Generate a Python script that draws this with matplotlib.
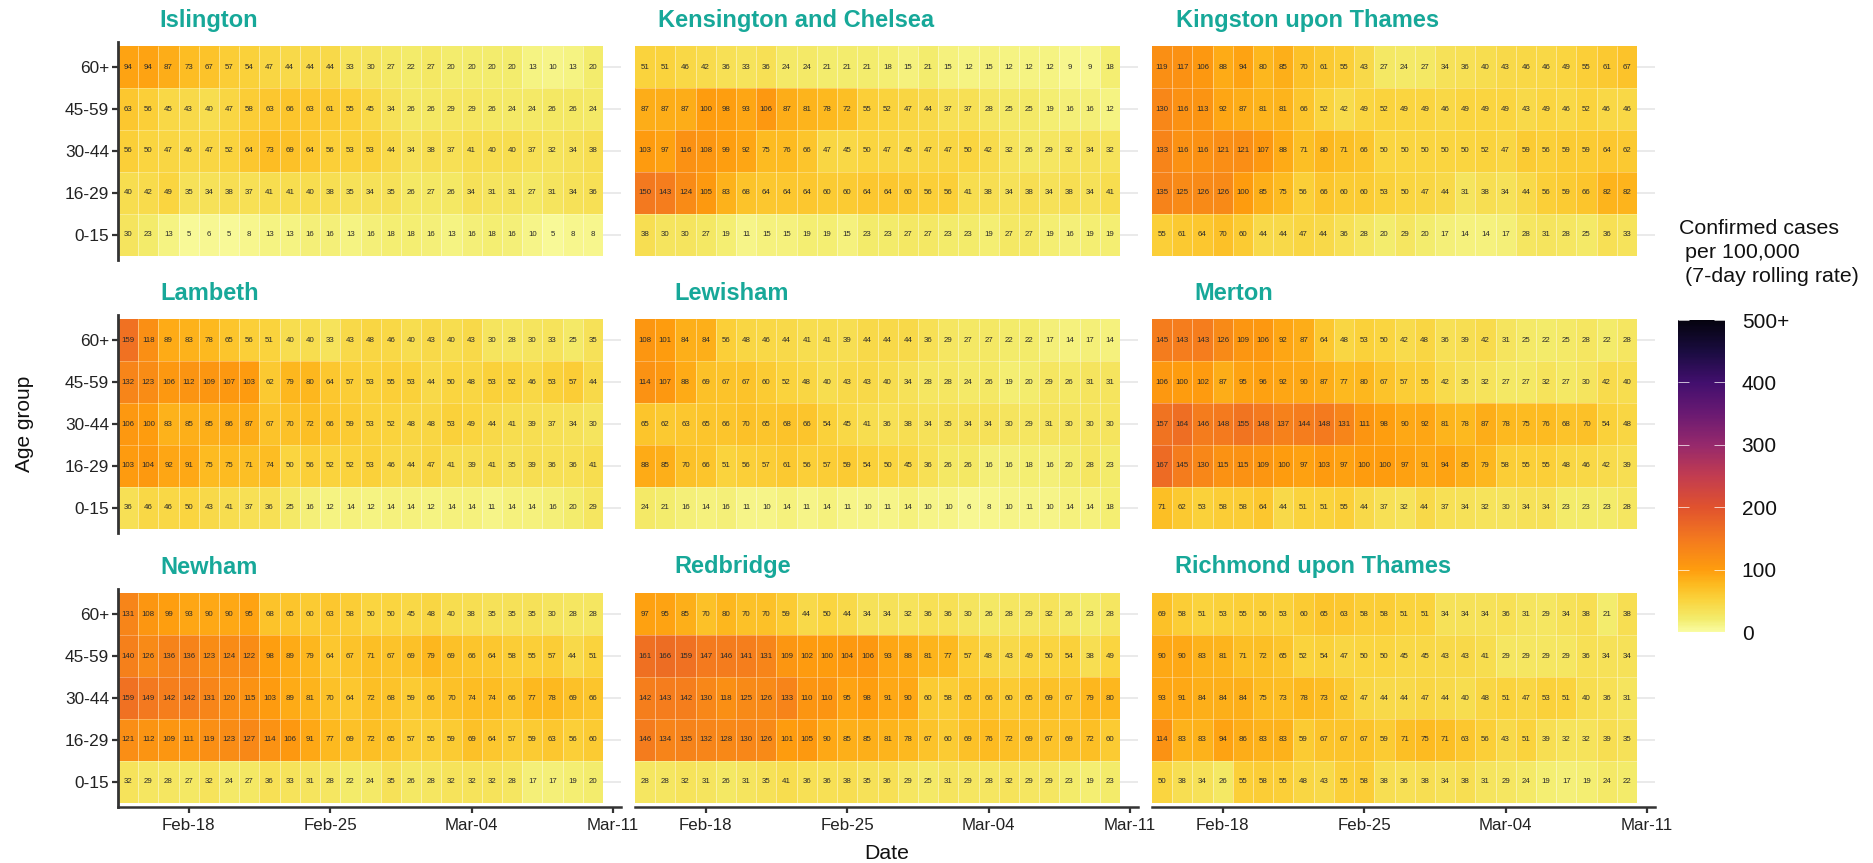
import numpy as np
import matplotlib
matplotlib.use('Agg')
import matplotlib.pyplot as plt
import matplotlib.dates as mdates
from matplotlib.colors import LinearSegmentedColormap, Normalize
from matplotlib.cm import ScalarMappable

plt.rcParams['font.family'] = ['Liberation Sans', 'DejaVu Sans']

# Age groups, bottom row first
age_groups = ['0-15', '16-29', '30-44', '45-59', '60+']
boroughs = ['Islington', 'Kensington and Chelsea', 'Kingston upon Thames',
            'Lambeth', 'Lewisham', 'Merton',
            'Newham', 'Redbridge', 'Richmond upon Thames']
dates = mdates.date2num(np.arange('2021-02-15', '2021-03-11', dtype='datetime64[D]'))
tick_dates = ['2021-02-18', '2021-02-25', '2021-03-04', '2021-03-11']
cbar_ticks = [0, 100, 200, 300, 400, 500]
cbar_labels = ['0', '100', '200', '300', '400', '500+']

# Case rates, each row listed from 60+ down to 0-15
islington = [
    [94, 94, 87, 73, 67, 57, 54, 47, 44, 44, 44, 33, 30, 27, 22, 27, 20, 20, 20, 20, 13, 10, 13, 20],
    [63, 56, 45, 43, 40, 47, 58, 63, 66, 63, 61, 55, 45, 34, 26, 26, 29, 29, 26, 24, 24, 26, 26, 24],
    [56, 50, 47, 46, 47, 52, 64, 73, 69, 64, 56, 53, 53, 44, 34, 38, 37, 41, 40, 40, 37, 32, 34, 38],
    [40, 42, 49, 35, 34, 38, 37, 41, 41, 40, 38, 35, 34, 35, 26, 27, 26, 34, 31, 31, 27, 31, 34, 36],
    [30, 23, 13, 5, 6, 5, 8, 13, 13, 16, 16, 13, 16, 18, 18, 16, 13, 16, 18, 16, 10, 5, 8, 8],
]
kensington = [
    [51, 51, 46, 42, 36, 33, 36, 24, 24, 21, 21, 21, 18, 15, 21, 15, 12, 15, 12, 12, 12, 9, 9, 18],
    [87, 87, 87, 100, 98, 93, 106, 87, 81, 78, 72, 55, 52, 47, 44, 37, 37, 28, 25, 25, 19, 16, 16, 12],
    [103, 97, 116, 108, 99, 92, 75, 76, 66, 47, 45, 50, 47, 45, 47, 47, 50, 42, 32, 26, 29, 32, 34, 32],
    [150, 143, 124, 105, 83, 68, 64, 64, 64, 60, 60, 64, 64, 60, 56, 56, 41, 38, 34, 38, 34, 38, 34, 41],
    [38, 30, 30, 27, 19, 11, 15, 15, 19, 19, 15, 23, 23, 27, 27, 23, 23, 19, 27, 27, 19, 16, 19, 19],
]
kingston = [
    [119, 117, 106, 88, 94, 80, 85, 70, 61, 55, 43, 27, 24, 27, 34, 36, 40, 43, 46, 46, 49, 55, 61, 67],
    [130, 116, 113, 92, 87, 81, 81, 66, 52, 42, 49, 52, 49, 49, 46, 49, 49, 49, 43, 49, 46, 52, 46, 46],
    [133, 116, 116, 121, 121, 107, 88, 71, 80, 71, 66, 50, 50, 50, 50, 50, 52, 47, 59, 56, 59, 59, 64, 62],
    [135, 125, 126, 126, 100, 85, 75, 56, 66, 60, 60, 53, 50, 47, 44, 31, 38, 34, 44, 56, 59, 66, 82, 82],
    [55, 61, 64, 70, 60, 44, 44, 47, 44, 36, 28, 20, 29, 20, 17, 14, 14, 17, 28, 31, 28, 25, 36, 33],
]
lambeth = [
    [159, 118, 89, 83, 78, 65, 56, 51, 40, 40, 33, 43, 48, 46, 40, 43, 40, 43, 30, 28, 30, 33, 25, 35],
    [132, 123, 106, 112, 109, 107, 103, 62, 79, 80, 64, 57, 53, 55, 53, 44, 50, 48, 53, 52, 46, 53, 57, 44],
    [106, 100, 83, 85, 85, 86, 87, 67, 70, 72, 66, 59, 53, 52, 48, 48, 53, 49, 44, 41, 39, 37, 34, 30],
    [103, 104, 92, 91, 75, 75, 71, 74, 50, 56, 52, 52, 53, 46, 44, 47, 41, 39, 41, 35, 39, 36, 36, 41],
    [36, 46, 46, 50, 43, 41, 37, 36, 25, 16, 12, 14, 12, 14, 14, 12, 14, 14, 11, 14, 14, 16, 20, 29],
]
lewisham = [
    [108, 101, 84, 84, 56, 48, 46, 44, 41, 41, 39, 44, 44, 44, 36, 29, 27, 27, 22, 22, 17, 14, 17, 14],
    [114, 107, 88, 69, 67, 67, 60, 52, 48, 40, 43, 43, 40, 34, 28, 28, 24, 26, 19, 20, 29, 26, 31, 31],
    [65, 62, 63, 65, 66, 70, 65, 68, 66, 54, 45, 41, 36, 38, 34, 35, 34, 34, 30, 29, 31, 30, 30, 30],
    [88, 85, 70, 66, 51, 56, 57, 61, 56, 57, 59, 54, 50, 45, 36, 26, 26, 16, 16, 18, 16, 20, 28, 23],
    [24, 21, 16, 14, 16, 11, 10, 14, 11, 14, 11, 10, 11, 14, 10, 10, 6, 8, 10, 11, 10, 14, 14, 18],
]
merton = [
    [145, 143, 143, 126, 109, 106, 92, 87, 64, 48, 53, 50, 42, 48, 36, 39, 42, 31, 25, 22, 25, 28, 22, 28],
    [106, 100, 102, 87, 95, 96, 92, 90, 87, 77, 80, 67, 57, 55, 42, 35, 32, 27, 27, 32, 27, 30, 42, 40],
    [157, 164, 146, 148, 155, 148, 137, 144, 148, 131, 111, 98, 90, 92, 81, 78, 87, 78, 75, 76, 68, 70, 54, 48],
    [167, 145, 130, 115, 115, 109, 100, 97, 103, 97, 100, 100, 97, 91, 94, 85, 79, 58, 55, 55, 48, 46, 42, 39],
    [71, 62, 53, 58, 58, 64, 44, 51, 51, 55, 44, 37, 32, 44, 37, 34, 32, 30, 34, 34, 23, 23, 23, 28],
]
newham = [
    [131, 108, 99, 93, 90, 90, 95, 68, 65, 60, 63, 58, 50, 50, 45, 48, 40, 38, 35, 35, 35, 30, 28, 28],
    [140, 126, 136, 136, 123, 124, 122, 98, 89, 79, 64, 67, 71, 67, 69, 79, 69, 66, 64, 58, 55, 57, 44, 51],
    [159, 149, 142, 142, 131, 120, 115, 103, 89, 81, 70, 64, 72, 68, 59, 66, 70, 74, 74, 66, 77, 78, 69, 66],
    [121, 112, 109, 111, 119, 123, 127, 114, 106, 91, 77, 69, 72, 65, 57, 55, 59, 69, 64, 57, 59, 63, 56, 60],
    [32, 29, 28, 27, 32, 24, 27, 36, 33, 31, 28, 22, 24, 35, 26, 28, 32, 32, 32, 28, 17, 17, 19, 20],
]
redbridge = [
    [97, 95, 85, 70, 80, 70, 70, 59, 44, 50, 44, 34, 34, 32, 36, 36, 30, 26, 28, 29, 32, 26, 23, 28],
    [161, 166, 159, 147, 146, 141, 131, 109, 102, 100, 104, 106, 93, 88, 81, 77, 57, 48, 43, 49, 50, 54, 38, 49],
    [142, 143, 142, 130, 118, 125, 126, 133, 110, 110, 95, 98, 91, 90, 60, 58, 65, 66, 60, 65, 69, 67, 79, 80],
    [146, 134, 135, 132, 128, 130, 126, 101, 105, 90, 85, 85, 81, 78, 67, 60, 69, 76, 72, 69, 67, 69, 72, 60],
    [28, 28, 32, 31, 26, 31, 35, 41, 36, 36, 38, 35, 36, 29, 25, 31, 29, 28, 32, 29, 29, 23, 19, 23],
]
richmond = [
    [69, 58, 51, 53, 55, 56, 53, 60, 65, 63, 58, 58, 51, 51, 34, 34, 34, 36, 31, 29, 34, 38, 21, 38],
    [90, 90, 83, 81, 71, 72, 65, 52, 54, 47, 50, 50, 45, 45, 43, 43, 41, 29, 29, 29, 29, 36, 34, 34],
    [93, 91, 84, 84, 84, 75, 73, 78, 73, 62, 47, 44, 44, 47, 44, 40, 48, 51, 47, 53, 51, 40, 36, 31],
    [114, 83, 83, 94, 86, 83, 83, 59, 67, 67, 67, 59, 71, 75, 71, 63, 56, 43, 51, 39, 32, 32, 39, 35],
    [50, 38, 34, 26, 55, 58, 55, 48, 43, 55, 58, 38, 36, 38, 34, 38, 31, 29, 24, 19, 17, 19, 24, 22],
]
panels = [islington, kensington, kingston, lambeth, lewisham, merton, newham, redbridge, richmond]

W, H = 1874, 863
fig = plt.figure(figsize=(W / 100, H / 100), dpi=100)

# Looks like reversed inferno, but washed out a little, so anchor it by hand
cmap = LinearSegmentedColormap.from_list('cases', [
    (0.00, '#f9fca2'), (0.04, '#f3ec6c'), (0.10, '#fad43e'), (0.15, '#fdbb20'),
    (0.20, '#fe9c0e'), (0.30, '#f3781f'), (0.40, '#e0522e'), (0.50, '#c23c50'),
    (0.60, '#96296c'), (0.70, '#6a1a72'), (0.80, '#420f6e'), (0.90, '#1a0c40'),
    (1.00, '#05030f')])
norm = Normalize(0, 500)

# Panel boxes in pixels
lefts = [118, 635, 1152]
tops = [42, 315, 589]
panel_w, panel_h = 503, 218
title_x = [159, 658, 1176, 160, 674, 1194, 160, 674, 1175]
title_y = [21, 294, 567]
teal = '#17a899'
dark = '#333333'

x_edges = np.append(dates - 0.5, dates[-1] + 0.5)
y_edges = np.arange(6) - 0.5
cell_w = 485 / 24

for i, values in enumerate(panels):
    row, col = i // 3, i % 3
    ax = fig.add_axes([lefts[col] / W, 1 - (tops[row] + panel_h) / H, panel_w / W, panel_h / H])
    z = np.array(values)[::-1]
    ax.pcolormesh(x_edges, y_edges, z, cmap=cmap, norm=norm, edgecolors='none', antialiased=False)
    # faint seams between the cells
    ax.vlines(x_edges[1:-1], -0.5, 4.5, color='white', lw=0.7, alpha=0.45)
    ax.hlines(y_edges[1:-1], x_edges[0], x_edges[-1], color='white', lw=0.7, alpha=0.3)
    for r in range(5):
        for c in range(24):
            ax.text(dates[c], r, str(z[r, c]), ha='center', va='center', fontsize=5.7, color='#2a2a2a')

    ax.set_xlim(x_edges[0], x_edges[0] + panel_w / cell_w)
    ax.set_ylim(-0.6, 4.6)
    ax.set_yticks(range(5))
    ax.set_yticklabels(age_groups)
    ax.set_xticks(mdates.date2num(np.array(tick_dates, dtype='datetime64[D]')))
    ax.xaxis.set_major_formatter(mdates.DateFormatter('%b-%d'))
    ax.set_axisbelow(True)
    ax.grid(axis='y', color='#e6e6e6', lw=1.2)
    ax.grid(axis='x', visible=False)

    ax.spines['top'].set_visible(False)
    ax.spines['right'].set_visible(False)
    ax.spines['left'].set_visible(col == 0)
    ax.spines['bottom'].set_visible(row == 2)
    ax.spines['left'].set_linewidth(2)
    ax.spines['bottom'].set_linewidth(1.8)
    ax.spines['left'].set_color(dark)
    ax.spines['bottom'].set_color(dark)
    ax.tick_params(axis='y', left=col == 0, labelleft=col == 0, length=4.5, width=1.6,
                   color=dark, labelsize=12.4, labelcolor='#222222', pad=2)
    ax.tick_params(axis='x', bottom=row == 2, labelbottom=row == 2, length=4, width=1.6,
                   color=dark, labelsize=12.2, labelcolor='#222222', pad=4)

    fig.text(title_x[i] / W, 1 - title_y[row] / H, boroughs[i], color=teal, fontsize=17,
             fontweight='bold', ha='left', va='center')

fig.text(25 / W, 1 - 424 / H, 'Age group', rotation=90, fontsize=15, ha='center', va='center', color='#111111')
fig.text(887 / W, 1 - 853 / H, 'Date', fontsize=15.3, ha='center', va='center', color='#111111')

# Legend
fig.text(1679 / W, 1 - 228 / H, 'Confirmed cases', fontsize=15.4, ha='left', va='center', color='#111111')
fig.text(1685 / W, 1 - 252 / H, 'per 100,000', fontsize=15.4, ha='left', va='center', color='#111111')
fig.text(1685 / W, 1 - 277 / H, '(7-day rolling rate)', fontsize=15.4, ha='left', va='center', color='#111111')

cax = fig.add_axes([1678 / W, 1 - 632 / H, 47 / W, 312 / H])
cb = fig.colorbar(ScalarMappable(norm=norm, cmap=cmap), cax=cax)
cb.set_ticks(cbar_ticks)
cb.set_ticklabels(cbar_labels)
cb.outline.set_visible(False)
cb.ax.tick_params(left=True, right=True, direction='in', color='#ffffff', length=8,
                  width=0.5, labelsize=15, labelcolor='#111111', pad=12)

fig.savefig('out.png', dpi=100)
